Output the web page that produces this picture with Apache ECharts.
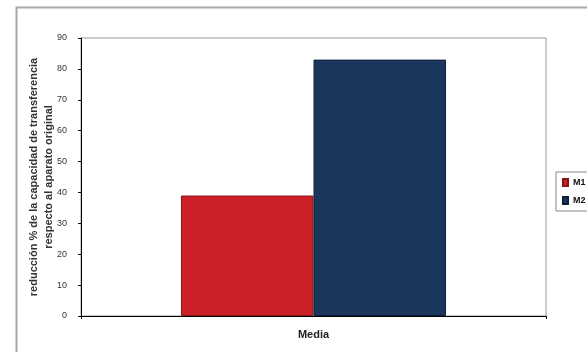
<!DOCTYPE html>
<html><head><meta charset="utf-8">
<script src="https://cdn.jsdelivr.net/npm/echarts@6/dist/echarts.min.js"></script>
<style>html,body{margin:0;padding:0;background:#fff}#c{width:587px;height:352px}</style>
</head><body><div id="c"></div>
<script>
const categories = ['Media'];
const seriesNames = ['M1', 'M2'];
const m1Values = [39];
const m2Values = [83];
const yTicks = [0, 10, 20, 30, 40, 50, 60, 70, 80, 90];
const yAxisTitle = 'reducción % de la capacidad de transferencia\nrespecto al aparato original';

const chart = echarts.init(document.getElementById('c'), null, {renderer: 'canvas'});
const font = 'Liberation Sans, Arial, sans-serif';
chart.setOption({
  animation: false,
  backgroundColor: '#fff',
  graphic: [{
    type: 'rect', shape: {x: 16.5, y: 7.5, width: 700, height: 500},
    style: {fill: 'none', stroke: '#a8a8a8', lineWidth: 2}, z: 0
  }],
  legend: {
    left: 556, top: 172, orient: 'vertical',
    data: seriesNames,
    icon: 'rect',
    itemWidth: 5, itemHeight: 7, itemGap: 9,
    padding: [6, 10, 6, 6],
    borderColor: '#888', borderWidth: 1,
    textStyle: {fontFamily: font, fontSize: 9, fontWeight: 'bold', color: '#111'}
  },
  grid: {left: 81, top: 38, right: 41, bottom: 36, show: true, borderColor: '#999', borderWidth: 1, backgroundColor: '#fff'},
  xAxis: {
    type: 'category', data: categories,
    axisLine: {lineStyle: {color: '#000', width: 1}},
    axisTick: {show: true, length: 3, lineStyle: {color: '#000'}},
    axisLabel: {fontFamily: font, fontSize: 11, fontWeight: 'bold', color: '#222', margin: 13}
  },
  yAxis: {
    type: 'value', min: yTicks[0], max: yTicks[yTicks.length - 1], interval: 10,
    name: yAxisTitle, nameLocation: 'middle', nameRotate: 90, nameGap: 25,
    nameMoveOverlap: false,
    nameTextStyle: {fontFamily: font, fontSize: 11, fontWeight: 'bold', color: '#333', lineHeight: 15, align: 'center'},
    axisLine: {show: true, lineStyle: {color: '#000', width: 1}},
    axisTick: {show: true, length: 3, lineStyle: {color: '#000'}},
    splitLine: {show: false},
    axisLabel: {fontFamily: font, fontSize: 9, color: '#333', margin: 14}
  },
  series: [
    {name: seriesNames[0], type: 'bar', data: m1Values, barGap: '0%', barCategoryGap: '43%',
     itemStyle: {color: '#CC2027', borderColor: '#8a1518', borderWidth: 1}},
    {name: seriesNames[1], type: 'bar', data: m2Values, barGap: '0%', barCategoryGap: '43%',
     itemStyle: {color: '#1A365D', borderColor: '#0e1f38', borderWidth: 1}}
  ]
});
</script></body></html>
